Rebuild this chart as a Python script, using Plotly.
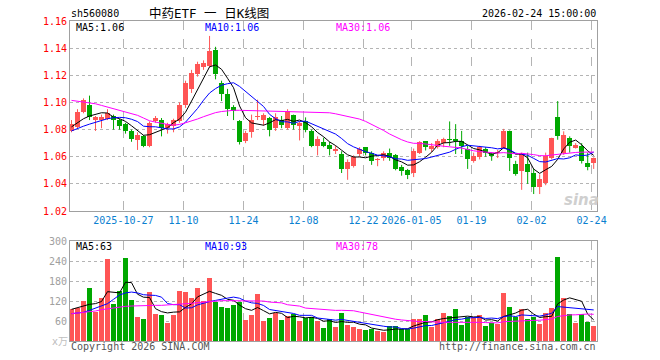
import plotly.graph_objects as go
import pandas as pd

dates = [
    "2025-10-14", "2025-10-15", "2025-10-16", "2025-10-17", "2025-10-20", "2025-10-21", "2025-10-22",
    "2025-10-23", "2025-10-24", "2025-10-27", "2025-10-28", "2025-10-29", "2025-10-30", "2025-10-31",
    "2025-11-03", "2025-11-04", "2025-11-05", "2025-11-06", "2025-11-07", "2025-11-10", "2025-11-11",
    "2025-11-12", "2025-11-13", "2025-11-14", "2025-11-17", "2025-11-18", "2025-11-19", "2025-11-20",
    "2025-11-21", "2025-11-24", "2025-11-25", "2025-11-26", "2025-11-27", "2025-11-28", "2025-12-01",
    "2025-12-02", "2025-12-03", "2025-12-04", "2025-12-05", "2025-12-08", "2025-12-09", "2025-12-10",
    "2025-12-11", "2025-12-12", "2025-12-15", "2025-12-16", "2025-12-17", "2025-12-18", "2025-12-19",
    "2025-12-22", "2025-12-23", "2025-12-24", "2025-12-25", "2025-12-26", "2025-12-29", "2025-12-30",
    "2025-12-31", "2026-01-05", "2026-01-06", "2026-01-07", "2026-01-08", "2026-01-09", "2026-01-12",
    "2026-01-13", "2026-01-14", "2026-01-15", "2026-01-16", "2026-01-19", "2026-01-20", "2026-01-21",
    "2026-01-22", "2026-01-23", "2026-01-26", "2026-01-27", "2026-01-28", "2026-01-29", "2026-01-30",
    "2026-02-02", "2026-02-03", "2026-02-04", "2026-02-05", "2026-02-06", "2026-02-09", "2026-02-10",
    "2026-02-11", "2026-02-12", "2026-02-13", "2026-02-24",
]

open_ = [
    1.079, 1.082, 1.093, 1.098, 1.087, 1.087, 1.088, 1.090, 1.087, 1.084, 1.079, 1.072, 1.0755, 1.068,
    1.086, 1.0873, 1.081, 1.083, 1.086, 1.098, 1.110, 1.121, 1.126, 1.127, 1.139, 1.114, 1.106, 1.097,
    1.086, 1.0715, 1.078, 1.089, 1.087, 1.0886, 1.081, 1.0873, 1.081, 1.091, 1.083, 1.086, 1.079, 1.068,
    1.071, 1.069, 1.064, 1.062, 1.051, 1.053, 1.062, 1.067, 1.063, 1.0575, 1.0593, 1.063, 1.061, 1.0527,
    1.050, 1.0483, 1.063, 1.0713, 1.066, 1.0673, 1.0702, 1.0727, 1.0727, 1.0715, 1.0654, 1.0568, 1.0597,
    1.066, 1.062, 1.0625, 1.0666, 1.0788, 1.0544, 1.0495, 1.055, 1.048, 1.0375, 1.0405, 1.0593, 1.0893,
    1.0626, 1.074, 1.0665, 1.068, 1.0555, 1.0556,
]
high = [
    1.087, 1.095, 1.103, 1.105, 1.090, 1.091, 1.095, 1.091, 1.088, 1.085, 1.080, 1.078, 1.076, 1.086,
    1.090, 1.0885, 1.085, 1.088, 1.100, 1.116, 1.124, 1.130, 1.131, 1.149, 1.141, 1.116, 1.110, 1.098,
    1.087, 1.079, 1.091, 1.102, 1.092, 1.0893, 1.092, 1.090, 1.095, 1.091, 1.086, 1.089, 1.080, 1.075,
    1.074, 1.071, 1.068, 1.064, 1.058, 1.061, 1.067, 1.067, 1.064, 1.059, 1.064, 1.066, 1.062, 1.054,
    1.051, 1.066, 1.0715, 1.0713, 1.070, 1.073, 1.074, 1.086, 1.084, 1.079, 1.068, 1.063, 1.068,
    1.067, 1.063, 1.065, 1.0805, 1.0793, 1.057, 1.063, 1.063, 1.051, 1.047, 1.063, 1.074, 1.101,
    1.0787, 1.075, 1.070, 1.070, 1.063, 1.0595,
]
low = [
    1.078, 1.081, 1.092, 1.087, 1.079, 1.081, 1.087, 1.080, 1.080, 1.077, 1.071, 1.065, 1.067, 1.067,
    1.085, 1.075, 1.077, 1.078, 1.085, 1.096, 1.107, 1.119, 1.124, 1.126, 1.117, 1.101, 1.090, 1.087,
    1.069, 1.070, 1.074, 1.087, 1.083, 1.075, 1.079, 1.081, 1.080, 1.080, 1.072, 1.078, 1.067, 1.061,
    1.067, 1.061, 1.062, 1.048, 1.043, 1.052, 1.060, 1.061, 1.054, 1.053, 1.057, 1.057, 1.050, 1.046,
    1.0435, 1.045, 1.062, 1.0646, 1.0635, 1.066, 1.067, 1.068, 1.062, 1.062, 1.051, 1.0556, 1.058,
    1.060, 1.057, 1.059, 1.066, 1.0495, 1.046, 1.0356, 1.040, 1.0325, 1.0325, 1.039, 1.058, 1.0725,
    1.0614, 1.063, 1.066, 1.055, 1.050, 1.051,
]
close = [
    1.084, 1.093, 1.102, 1.089, 1.089, 1.089, 1.092, 1.087, 1.083, 1.079, 1.073, 1.076, 1.068, 1.085,
    1.0885, 1.081, 1.084, 1.087, 1.098, 1.114, 1.122, 1.128, 1.129, 1.138, 1.121, 1.106, 1.095, 1.094,
    1.071, 1.0775, 1.087, 1.0895, 1.091, 1.080, 1.089, 1.0836, 1.094, 1.0836, 1.085, 1.0795, 1.068, 1.073,
    1.068, 1.066, 1.066, 1.051, 1.056, 1.060, 1.066, 1.063, 1.057, 1.0585, 1.063, 1.0593, 1.0507, 1.0495,
    1.0463, 1.0641, 1.071, 1.0671, 1.068, 1.0717, 1.0732, 1.0722, 1.0715, 1.068, 1.058, 1.0605, 1.0673,
    1.063, 1.0605, 1.0635, 1.0788, 1.0593, 1.047, 1.0617, 1.049, 1.0375, 1.0434, 1.0605, 1.0739, 1.075,
    1.076, 1.068, 1.0685, 1.0565, 1.0527, 1.0593,
]
volume = [
    97, 98, 119, 159, 88, 128, 246, 110, 150, 248, 122, 72, 65, 146,
    80, 77, 53, 77, 150, 147, 130, 158, 121, 189, 116, 101, 98, 107,
    116, 62, 77, 140, 60, 68, 84, 63, 76, 80, 60, 68, 71, 60,
    38, 67, 42, 85, 47, 41, 37, 32, 37, 29, 26, 44, 44, 35,
    35, 67, 67, 77, 41, 67, 85, 74, 95, 47, 72, 73, 77,
    45, 53, 51, 143, 101, 72, 95, 65, 71, 50, 84, 100, 252,
    129, 82, 53, 80, 58, 44,
]

# Moving-average values at the left edge (their windows reach back before the first
# visible session).
ma_head = {
    "MA5": [1.082, 1.085, 1.088, 1.090],
    "MA10": [1.079, 1.081, 1.0825, 1.084, 1.0855, 1.087, 1.088, 1.0887, 1.089],
    "MA30": [1.1015, 1.101, 1.1005, 1.0998, 1.099, 1.0978, 1.0965, 1.0955, 1.0943, 1.093,
             1.0918, 1.0905, 1.0885, 1.0865, 1.0855, 1.0845, 1.0838, 1.0832, 1.0838, 1.085,
             1.0862, 1.0878, 1.0895, 1.091, 1.0925, 1.0933, 1.094, 1.0942, 1.0942],
}
vma_head = {
    "MA5": [95, 100, 105, 110],
    "MA10": [82, 84, 86, 92, 98, 104, 112, 125, 138],
    "MA30": [82, 84, 85, 87, 90, 94, 97, 100, 102, 104, 105, 106, 107, 107, 107,
             107, 108, 108, 109, 111, 113, 115, 117, 119, 120, 121, 121, 121, 121],
}

tick_dates = ["2025-10-27", "2025-11-10", "2025-11-24", "2025-12-08", "2025-12-22",
              "2026-01-05", "2026-01-19", "2026-02-02", "2026-02-24"]
tick_text = ["2025-10-27", "11-10", "11-24", "12-08", "12-22", "2026-01-05", "01-19", "02-02", "02-24"]

price_ticks = [1.02, 1.04, 1.06, 1.08, 1.10, 1.12, 1.14, 1.16]
vol_ticks = [60, 120, 180, 240, 300]

RED = "#FF5555"
GREEN = "#00A800"
BLUE_TXT = "#0A80D0"
MA_COLORS = {"MA5": "#000000", "MA10": "#0000FF", "MA30": "#FF00FF"}
MONO = "DejaVu Sans Mono"
FS = 10


def moving_average(values, n, head):
    s = pd.Series(values, dtype=float).rolling(n).mean()
    s.iloc[:n - 1] = head
    return s


x = list(range(len(dates)))
ma = {f"MA{n}": moving_average(close, n, ma_head[f"MA{n}"]) for n in (5, 10, 30)}
vma = {f"MA{n}": moving_average(volume, n, vma_head[f"MA{n}"]) for n in (5, 10, 30)}
up = [c >= o for o, c in zip(open_, close)]
bar_colors = [RED if u else GREEN for u in up]
tickvals = [dates.index(d) - 0.35 for d in tick_dates]

MIN_BODY = 0.0008  # keep doji bodies visible (about 1 px)
body_base = [min(o, c) for o, c in zip(open_, close)]
body_h = [max(abs(c - o), MIN_BODY) for o, c in zip(open_, close)]

fig = go.Figure()
# wicks
for is_up, col in ((True, RED), (False, GREEN)):
    wx, wy = [], []
    for i in x:
        if up[i] == is_up:
            wx += [i, i, None]
            wy += [low[i], high[i], None]
    fig.add_trace(go.Scatter(x=wx, y=wy, mode="lines", line=dict(color=col, width=1),
                             showlegend=False, xaxis="x", yaxis="y", hoverinfo="skip"))
# bodies
fig.add_trace(go.Bar(x=x, y=body_h, base=body_base, marker=dict(color=bar_colors, line=dict(width=0)),
                     width=0.8, showlegend=False, xaxis="x", yaxis="y", hoverinfo="skip"))
for name, s in ma.items():
    fig.add_trace(go.Scatter(x=x, y=s, mode="lines", line=dict(color=MA_COLORS[name], width=1),
                             showlegend=False, xaxis="x", yaxis="y", hoverinfo="skip"))
fig.add_trace(go.Bar(x=x, y=volume, marker=dict(color=bar_colors, line=dict(width=0)), width=0.8,
                     showlegend=False, xaxis="x2", yaxis="y2", hoverinfo="skip"))
for name, s in vma.items():
    fig.add_trace(go.Scatter(x=x, y=s, mode="lines", line=dict(color=MA_COLORS[name], width=1),
                             showlegend=False, xaxis="x2", yaxis="y2", hoverinfo="skip"))

W, H = 660, 360
ML, MR, MT, MB = 70, 63, 21, 19
PW, PH = W - ML - MR, H - MT - MB


def px(xp):
    return (xp - ML) / PW


def py(yp):
    return (H - MB - yp) / PH


axis_common = dict(showline=True, mirror=True, linecolor="#A0A0A0", linewidth=1, zeroline=False,
                   ticks="", fixedrange=True, automargin=False)
xgrid = dict(showgrid=True, gridcolor="#B4B4B4", griddash="dash", gridwidth=1,
             tickvals=tickvals, range=[-0.25, 87.55], tickangle=0)
fig.update_layout(
    width=W, height=H,
    margin=dict(l=ML, r=MR, t=MT, b=MB, autoexpand=False),
    paper_bgcolor="white", plot_bgcolor="white",
    font=dict(family=MONO, size=FS, color="#000"),
    xaxis=dict(domain=[0, 1], anchor="y", ticktext=tick_text, rangeslider=dict(visible=False),
               tickfont=dict(family=MONO, size=FS, color=BLUE_TXT), **xgrid, **axis_common),
    xaxis2=dict(domain=[0, 1], anchor="y2", matches="x", showticklabels=False, **xgrid, **axis_common),
    yaxis=dict(domain=[(H - MB - 211) / PH, 1], range=[1.02, 1.16], tickvals=price_ticks,
               tickformat=".2f", tickfont=dict(family=MONO, size=FS, color="#FF0000"),
               showgrid=True, gridcolor="#B4B4B4", griddash="dot", **axis_common),
    yaxis2=dict(domain=[0, (H - MB - 241) / PH], range=[0, 300], tickvals=vol_ticks,
                tickfont=dict(family=MONO, size=FS, color="#A0A0A0"),
                showgrid=True, gridcolor="#B4B4B4", griddash="dot", **axis_common),
    bargap=0, barmode="overlay",
)

ann = []


def add_text(t, xp, yp, color="#000", size=FS, anchor="left", family=MONO, **kw):
    ann.append(dict(text=t, x=px(xp), y=py(yp), xref="paper", yref="paper", showarrow=False,
                    xanchor=anchor, yanchor="middle", font=dict(family=family, size=size, color=color), **kw))


add_text("sh560080", 69, 13)
add_text("中药ETF 一 日K线图", 209, 13, size=12.5, anchor="center",
         family="DejaVu Sans Mono, Noto Sans CJK SC")
add_text("2026-02-24 15:00:00", 598, 13, anchor="right")

add_text("MA5:1.06", 74, 27, color=MA_COLORS["MA5"])
add_text("MA10:1.06", 203, 27, color=MA_COLORS["MA10"])
add_text("MA30:1.06", 334, 27, color=MA_COLORS["MA30"])
add_text("MA5:63", 74, 246, color=MA_COLORS["MA5"])
add_text("MA10:93", 203, 246, color=MA_COLORS["MA10"])
add_text("MA30:78", 334, 246, color=MA_COLORS["MA30"])

add_text("x万", 50, 341, color="#C0C0C0", family="DejaVu Sans, Noto Sans CJK SC")
add_text("Copyright 2026 SINA.COM", 69, 346, color="#555")
add_text("http://finance.sina.com.cn", 598, 346, color="#555", anchor="right")
add_text("<b><i>sina</i></b>", 581, 200, color="#CFCFCF", size=15, anchor="center", family="DejaVu Sans")

fig.update_layout(annotations=ann)
fig.write_html("out.html", config={"displayModeBar": False, "staticPlot": True},
               post_script="document.body.style.margin='0px';")
